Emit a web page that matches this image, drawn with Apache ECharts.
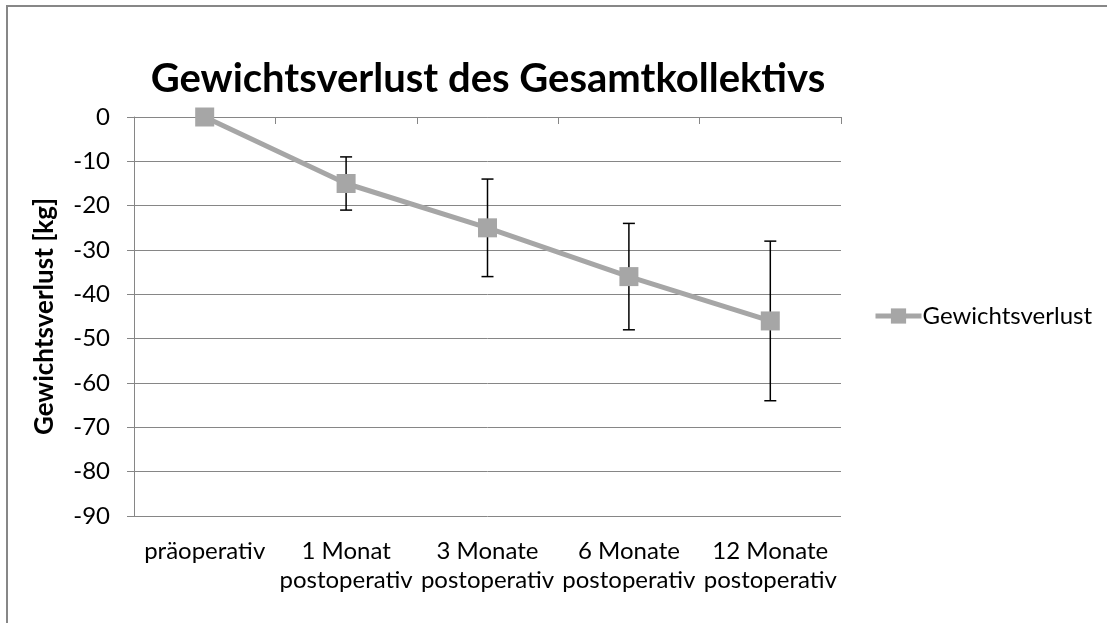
<!DOCTYPE html>
<html>
<head>
<meta charset="utf-8">
<script src="https://cdn.jsdelivr.net/npm/echarts@6/dist/echarts.min.js"></script>
<style>
  html, body { margin: 0; padding: 0; background: #fff; }
  #frame { position: absolute; left: 6px; top: 5px; width: 1120px; height: 640px;
           border-top: 2px solid #878787; border-left: 2px solid #878787; box-sizing: border-box; }
  #chart { position: absolute; left: 0; top: 0; width: 1107px; height: 623px; }
</style>
</head>
<body>
<div id="frame"></div>
<div id="chart"></div>
<script>
const categories = ['präoperativ', '1 Monat\npostoperativ', '3 Monate\npostoperativ', '6 Monate\npostoperativ', '12 Monate\npostoperativ']
const weightLoss = [0, -15, -25, -36, -46]
const errorPlus = [0, 6, 11, 12, 18]
const errorMinus = [0, 6, 11, 12, 18]
const yTicks = { min: -90, max: 0, interval: 10 }

const font = 'Lato, "Open Sans", sans-serif'
const chart = echarts.init(document.getElementById('chart'))

const errorData = weightLoss.map((v, i) => [i, v + errorPlus[i], v - errorMinus[i]])

chart.setOption({
  animation: false,
  title: {
    text: 'Gewichtsverlust des Gesamtkollektivs',
    left: 483,
    textAlign: 'center',
    top: 54,
    textStyle: { fontFamily: font, fontSize: 40, fontWeight: 'bold', color: '#000' }
  },
  legend: {
    data: ['Gewichtsverlust'],
    left: 868,
    top: 299,
    itemWidth: 46,
    itemHeight: 19,
    itemGap: 0,
    lineStyle: { width: 5 },
    textStyle: { fontFamily: font, fontSize: 24, color: '#000', padding: [0, 0, 0, -4] }
  },
  grid: { left: 134, right: 266, top: 117, bottom: 107, containLabel: false },
  xAxis: {
    type: 'category',
    data: categories,
    boundaryGap: true,
    axisLine: { lineStyle: { color: '#868686', width: 1 } },
    axisTick: { show: true, length: 7, lineStyle: { color: '#868686' } },
    axisLabel: { fontFamily: font, fontSize: 24, color: '#000', margin: 21, lineHeight: 29, interval: 0 }
  },
  yAxis: {
    type: 'value',
    min: yTicks.min,
    max: yTicks.max,
    interval: yTicks.interval,
    name: 'Gewichtsverlust [kg]',
    nameLocation: 'middle',
    nameGap: 76,
    nameTextStyle: { fontFamily: font, fontSize: 26, fontWeight: 'bold', color: '#000' },
    axisLine: { show: true, lineStyle: { color: '#868686', width: 1 } },
    axisTick: { show: true, length: 7, lineStyle: { color: '#868686' } },
    axisLabel: { fontFamily: font, fontSize: 24, color: '#000', margin: 24 },
    splitLine: { lineStyle: { color: '#868686', width: 1 } }
  },
  series: [
    {
      name: 'Gewichtsverlust',
      type: 'line',
      data: weightLoss,
      symbol: 'rect',
      symbolSize: 19,
      z: 3,
      lineStyle: { color: '#a6a6a6', width: 5 },
      itemStyle: { color: '#a6a6a6' }
    },
    {
      name: 'Fehler',
      type: 'custom',
      z: 2,
      data: errorData,
      renderItem: (params, api) => {
        const x = api.value(0)
        const top = api.coord([x, api.value(1)])
        const bot = api.coord([x, api.value(2)])
        const cap = 6
        const style = { stroke: '#000', lineWidth: 1.5 }
        return {
          type: 'group',
          children: [
            { type: 'line', shape: { x1: top[0], y1: top[1], x2: bot[0], y2: bot[1] }, style },
            { type: 'line', shape: { x1: top[0] - cap, y1: top[1], x2: top[0] + cap, y2: top[1] }, style },
            { type: 'line', shape: { x1: bot[0] - cap, y1: bot[1], x2: bot[0] + cap, y2: bot[1] }, style }
          ]
        }
      }
    }
  ]
})
</script>
</body>
</html>
